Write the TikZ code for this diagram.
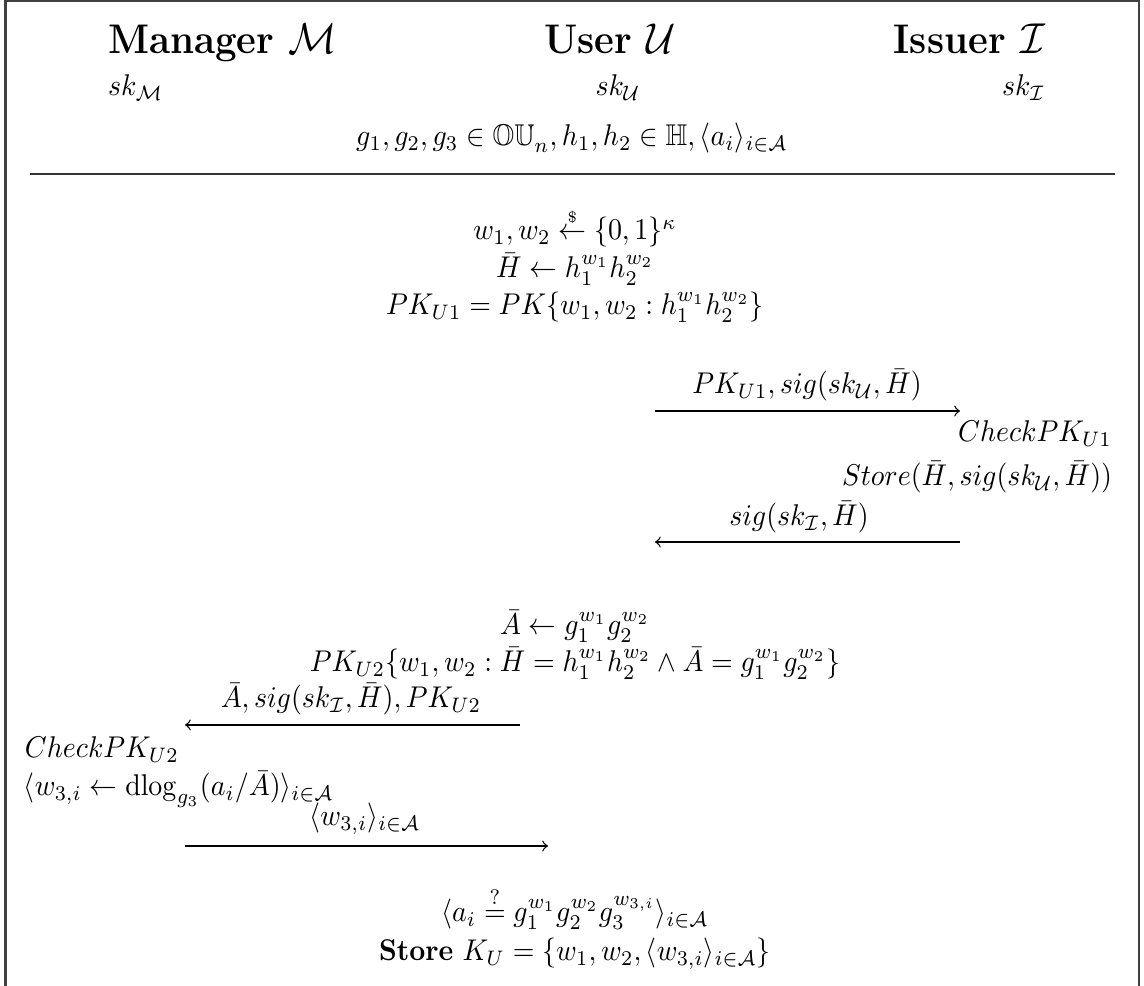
\documentclass[tikz,border=0pt]{standalone}
\usepackage{amsmath,amssymb,graphicx}
\newcommand{\hsq}[1]{\scalebox{0.93}[1]{#1}}
\begin{document}
\begin{tikzpicture}[x=0.3333pt,y=-0.3333pt,
  txt/.style={inner sep=0pt,outer sep=0pt},
  hdr/.style={txt,font=\bfseries\fontsize{13.8}{16}\selectfont},
  msg/.style={-to,line width=0.45pt},
  frame/.style={line width=0.7pt,draw=black!75}]
\useasboundingbox (0,0) rectangle (1144,986);
\draw[frame] (5.5,1) rectangle (1139,1010);
% headers
\node[hdr,anchor=base west] (mgr) at (108,54) {\hsq{Manager $\mathcal{M}$}};
\node[hdr,anchor=base] (usr) at (610,54) {\hsq{User $\mathcal{U}$}};
\node[hdr,anchor=base east] (iss) at (1045,54) {\hsq{Issuer $\mathcal{I}$}};
\node[txt,anchor=base west] (skm) at (108,96) {\hsq{$sk_{\mathcal{M}}$}};
\node[txt,anchor=base] (sku) at (618,96) {\hsq{$sk_{\mathcal{U}}$}};
\node[txt,anchor=base east] (ski) at (1045,96) {\hsq{$sk_{\mathcal{I}}$}};
\node[txt,anchor=base] (pub) at (572,146) {\hsq{$g_1,g_2,g_3\in\mathbb{OU}_n,h_1,h_2\in\mathbb{H},\langle a_i\rangle_{i\in\mathcal{A}}$}};
\coordinate (hl) at (30,174);
\coordinate (hr) at (1115,174);
\draw[line width=0.7pt,black!80] (hl) -- (hr);
% user step 1
\node[txt,anchor=base] (u1) at (575,240) {\hsq{$w_1,w_2\stackrel{\scriptscriptstyle\$}{\leftarrow}\{0,1\}^{\kappa}$}};
\node[txt,anchor=base] (u2) at (575,278) {\hsq{$\bar{H}\leftarrow h_1^{w_1}h_2^{w_2}$}};
\node[txt,anchor=base] (u3) at (575,315) {\hsq{$PK_{U1}=PK\{w_1,w_2:h_1^{w_1}h_2^{w_2}\}$}};
% message 1
\coordinate (m1s) at (655,411);
\coordinate (m1e) at (960,411);
\draw[msg] (m1s) -- (m1e);
\node[txt,anchor=base] (m1l) at (807,394) {\hsq{$PK_{U1},sig(sk_{\mathcal{U}},\bar{H})$}};
\node[txt,anchor=base east] (i1) at (1112,442) {\hsq{$CheckPK_{U1}$}};
\node[txt,anchor=base east] (i2) at (1112,486) {\hsq{$Store(\bar{H},sig(sk_{\mathcal{U}},\bar{H}))$}};
% message 2
\coordinate (m2s) at (960,542);
\coordinate (m2e) at (655,542);
\draw[msg] (m2s) -- (m2e);
\node[txt,anchor=base] (m2l) at (799,526) {\hsq{$sig(sk_{\mathcal{I}},\bar{H})$}};
% user step 2
\node[txt,anchor=base] (u4) at (575,635) {\hsq{$\bar{A}\leftarrow g_1^{w_1}g_2^{w_2}$}};
\node[txt,anchor=base] (u5) at (575,672) {\hsq{$PK_{U2}\{w_1,w_2:\bar{H}=h_1^{w_1}h_2^{w_2}\wedge\bar{A}=g_1^{w_1}g_2^{w_2}\}$}};
% message 3
\coordinate (m3s) at (520,725);
\coordinate (m3e) at (185,725);
\draw[msg] (m3s) -- (m3e);
\node[txt,anchor=base] (m3l) at (351,708) {\hsq{$\bar{A},sig(sk_{\mathcal{I}},\bar{H}),PK_{U2}$}};
% manager
\node[txt,anchor=base west] (k1) at (25,758) {\hsq{$CheckPK_{U2}$}};
\node[txt,anchor=base west] (k2) at (24,796) {\hsq{$\langle w_{3,i}\leftarrow\mathrm{dlog}_{g_3}(a_i/\bar{A})\rangle_{i\in\mathcal{A}}$}};
% message 4
\coordinate (m4s) at (185,846);
\coordinate (m4e) at (548,846);
\draw[msg] (m4s) -- (m4e);
\node[txt,anchor=base] (m4l) at (365,826) {\hsq{$\langle w_{3,i}\rangle_{i\in\mathcal{A}}$}};
% user final
\node[txt,anchor=base] (u6) at (575,922) {\hsq{$\langle a_i\overset{?}{=}g_1^{w_1}g_2^{w_2}g_3^{w_{3,i}}\rangle_{i\in\mathcal{A}}$}};
\node[txt,anchor=base] (u7) at (575,961) {\hsq{\textbf{Store} $K_U=\{w_1,w_2,\langle w_{3,i}\rangle_{i\in\mathcal{A}}\}$}};
\end{tikzpicture}
\end{document}
